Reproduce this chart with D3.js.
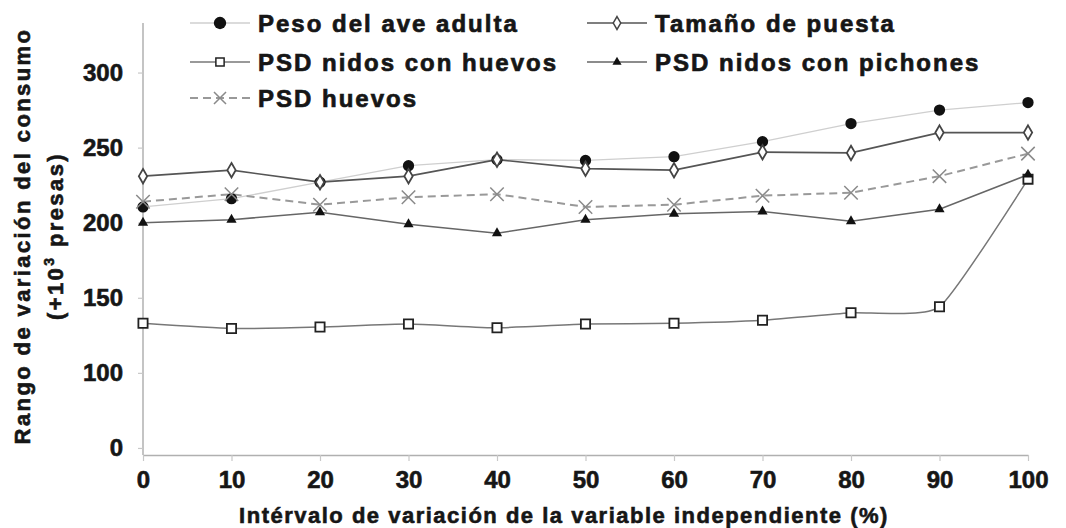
<!DOCTYPE html>
<html>
<head>
<meta charset="utf-8">
<script src="https://cdn.jsdelivr.net/npm/d3@7"></script>
<style>
    body { margin: 0; background: #fff; }
    svg text { font-family: "Liberation Sans", Arial, sans-serif; font-weight: bold; fill: #161616; }
</style>
</head>
<body>
<div id="app"></div>
<script>
// chart values
const categories = [0, 10, 20, 30, 40, 50, 60, 70, 80, 90, 100];
const pesoAve = [210.5, 216, 227, 238, 242, 241.5, 244, 254, 266, 275, 280];
const tamanoPuesta = [231, 235, 227, 231, 242, 236, 235, 247, 246.5, 260, 260];
const nidosHuevos = [133, 129.5, 130.5, 132.5, 130, 132.5, 133, 135, 140, 144, 229];
const nidosPichones = [200, 202, 207, 199, 193, 202, 206, 207.5, 201, 209, 232];
const psdHuevos = [214, 219, 212, 217, 219, 210.5, 212, 218, 220, 231, 246];

// broken axis: the "0" label stands one step under 100
const yTickValues = [50, 100, 150, 200, 250, 300];
const yTickLabels = ["0", "100", "150", "200", "250", "300"];

function plotChart() {
    const svgWidth = 1066;
    const svgHeight = 528;

    const svg = d3.select("#app").append("svg")
        .attr("width", svgWidth)
        .attr("height", svgHeight);

    const x = d3.scaleLinear().domain([0, 100]).range([143, 1028]);
    const y = d3.scaleLinear().domain([45.3, 333]).range([455, 23]);

    // axes
    const xAxis = svg.append("g")
        .attr("transform", "translate(0," + y(45.3) + ")")
        .call(d3.axisBottom(x).tickValues(categories).tickSize(6).tickPadding(10).tickSizeOuter(0));
    const yAxis = svg.append("g")
        .attr("transform", "translate(" + x(0) + ",0)")
        .call(d3.axisLeft(y).tickValues(yTickValues).tickSize(5).tickPadding(15).tickSizeOuter(0)
            .tickFormat(function(d, i) { return yTickLabels[i]; }));

    [xAxis, yAxis].forEach(function(a) {
        a.select(".domain").attr("stroke", "#b0b0b0").attr("stroke-width", 1.5);
        a.selectAll(".tick line").attr("stroke", "#c8c8c8").attr("stroke-width", 1.2);
        a.selectAll(".tick text")
            .attr("font-size", 24)
            .style("font-family", "'Liberation Sans', Arial, sans-serif")
            .style("font-weight", "bold")
            .attr("fill", "#161616")
            .attr("stroke", "#161616")
            .attr("stroke-width", 0.6);
    });
    yAxis.select(".domain").attr("d", "M0," + y(333) + "V" + y(45.3));

    const series = [
        {name: "Peso del ave adulta", values: pesoAve, line: "#cfcfcf", width: 1.3, dash: null,
            symbol: d3.symbolCircle, size: 100, fill: "#111", stroke: "none", curve: d3.curveLinear},
        {name: "Tamaño de puesta", values: tamanoPuesta, line: "#555", width: 1.6, dash: null,
            symbol: d3.symbolDiamond, size: 60, fill: "#fff", stroke: "#444", curve: d3.curveLinear},
        {name: "PSD nidos con huevos", values: nidosHuevos, line: "#777", width: 1.5, dash: null,
            symbol: d3.symbolSquare, size: 85, fill: "#fff", stroke: "#222", curve: d3.curveCardinal.tension(0.5)},
        {name: "PSD nidos con pichones", values: nidosPichones, line: "#666", width: 1.6, dash: null,
            symbol: d3.symbolTriangle, size: 45, fill: "#111", stroke: "none", curve: d3.curveLinear},
        {name: "PSD huevos", values: psdHuevos, line: "#999", width: 2, dash: "8,5",
            symbol: d3.symbolX, size: 120, fill: "none", stroke: "#8a8a8a", curve: d3.curveLinear}
    ];

    const plot = svg.append("g");
    series.forEach(function(s) {
        const line = d3.line()
            .x(function(d, i) { return x(categories[i]); })
            .y(function(d) { return y(d); })
            .curve(s.curve);
        plot.append("path")
            .datum(s.values)
            .attr("d", line)
            .attr("fill", "none")
            .attr("stroke", s.line)
            .attr("stroke-width", s.width)
            .attr("stroke-dasharray", s.dash);
    });
    series.forEach(function(s) {
        plot.selectAll(null)
            .data(s.values)
            .enter()
            .append("path")
            .attr("transform", function(d, i) { return "translate(" + x(categories[i]) + "," + y(d) + ")"; })
            .attr("d", d3.symbol().type(s.symbol).size(s.size))
            .attr("fill", s.fill)
            .attr("stroke", s.stroke)
            .attr("stroke-width", s.symbol === d3.symbolX ? 1.5 : 1.8);
    });

    // legend, two columns
    const legendPos = [
        {x: 190, y: 23}, {x: 587, y: 23},
        {x: 190, y: 62}, {x: 587, y: 62},
        {x: 190, y: 98}
    ];
    const legendOrder = [0, 1, 2, 3, 4];
    legendOrder.forEach(function(k, i) {
        const s = series[k];
        const p = legendPos[i];
        const g = svg.append("g").attr("transform", "translate(" + p.x + "," + p.y + ")");
        g.append("line")
            .attr("x1", 0).attr("x2", 60)
            .attr("stroke", s.line)
            .attr("stroke-width", s.width)
            .attr("stroke-dasharray", s.dash);
        g.append("path")
            .attr("transform", "translate(30,0)")
            .attr("d", d3.symbol().type(s.symbol).size(s.symbol === d3.symbolCircle ? 120 : s.size * 0.8))
            .attr("fill", s.fill)
            .attr("stroke", s.stroke)
            .attr("stroke-width", 1.5);
        g.append("text")
            .attr("x", 68)
            .attr("dy", "0.36em")
            .attr("font-size", 24)
            .attr("letter-spacing", 2)
            .attr("stroke", "#161616")
            .attr("stroke-width", 0.7)
            .text(s.name);
    });

    // axis titles
    svg.append("text")
        .attr("x", 564)
        .attr("y", 523)
        .attr("text-anchor", "middle")
        .attr("font-size", 22)
        .attr("letter-spacing", 1.5)
        .attr("stroke", "#161616")
        .attr("stroke-width", 0.6)
        .text("Intérvalo de variación de la variable independiente (%)");

    const yTitle = svg.append("text")
        .attr("transform", "translate(30,236) rotate(-90)")
        .attr("text-anchor", "middle")
        .attr("font-size", 22)
        .attr("letter-spacing", 2.4)
        .attr("stroke", "#161616")
        .attr("stroke-width", 0.6);
    yTitle.append("tspan").attr("x", 0).attr("y", 0).text("Rango de variación del consumo");
    const line2 = yTitle.append("tspan").attr("x", 0).attr("y", 33).text("(+10");
    line2.append("tspan").attr("dy", -9).attr("font-size", 14).text("3");
    line2.append("tspan").attr("dy", 9).text(" presas)");
}

plotChart();
</script>
</body>
</html>
